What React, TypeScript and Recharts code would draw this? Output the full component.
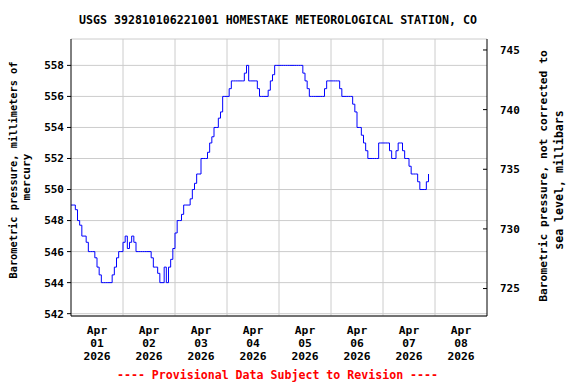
import React from 'react';
import { LineChart, Line, XAxis, YAxis, CartesianGrid, ReferenceLine } from 'recharts';

const TITLE = 'USGS 392810106221001 HOMESTAKE METEOROLOGICAL STATION, CO';
const FOOTER = '---- Provisional Data Subject to Revision ----';
const LEFT_LABEL = ['Barometric pressure, millimeters of', 'mercury'];
const RIGHT_LABEL = ['Barometric pressure, not corrected to', 'sea level, millibars'];

// Hourly readings starting Apr 01 2026 00:00 (mm Hg)
const pressureMmHg = [
  549, 549, 548.7, 548, 547.7, 547, 547, 546.6, 546, 546, 546, 545.6, 545, 544.5, 544, 544, 544, 544, 544, 544.5, 545, 545.6, 546, 546,
  546.6, 547, 546.2, 546.6, 547, 546.6, 546, 546, 546, 546, 546, 546, 546, 545.6, 545, 545, 544.6, 544, 544, 545, 544, 545, 545.5, 546.2,
  547.2, 548, 548, 548.4, 549, 549, 549, 549.4, 550, 550.4, 551, 551, 552, 552, 552, 552.4, 553, 553.4, 554, 554, 554.6, 555, 556, 556,
  556, 556.5, 557, 557, 557, 557, 557, 557, 557.5, 558, 557, 557, 557, 557, 556.5, 556, 556, 556, 556, 556.4, 557, 557.4, 558, 558,
  558, 558, 558, 558, 558, 558, 558, 558, 558, 558, 558, 557.5, 557, 556.5, 556, 556, 556, 556, 556, 556, 556, 556.5, 557, 557,
  557, 557, 557, 557, 556.5, 556, 556, 556, 556, 556, 555.5, 555, 554, 554, 553.5, 553, 552.5, 552, 552, 552, 552, 552, 553, 553,
  553, 553, 553, 552.5, 552, 552, 552.5, 553, 553, 552.5, 552, 552, 551.5, 551, 551, 551, 550.5, 550, 550, 550, 550.5, 551,
];

const dayMonths = ['Apr', 'Apr', 'Apr', 'Apr', 'Apr', 'Apr', 'Apr', 'Apr'];
const dayNumbers = ['01', '02', '03', '04', '05', '06', '07', '08'];
const dayYears = ['2026', '2026', '2026', '2026', '2026', '2026', '2026', '2026'];
const dayCenterHours = [12, 36, 60, 84, 108, 132, 156, 180];
const dayBoundaryHours = [24, 48, 72, 96, 120, 144, 168];
const xDomain = [0, 192];

const leftTicks = [542, 544, 546, 548, 550, 552, 554, 556, 558];
const leftDomain = [541.85, 559.7];
const rightTicks = [725, 730, 735, 740, 745];
const rightDomain = [722.7, 745.92];

const data = pressureMmHg.map((v, i) => ({ hour: i, mmHg: v }));

const FONT = '"DejaVu Sans Mono", monospace';

const DateTick = (props: any) => {
  const { x, y, payload } = props;
  const i = dayCenterHours.indexOf(payload.value);
  if (i < 0) return null;
  const common = {
    x,
    textAnchor: 'middle' as const,
    fontFamily: FONT,
    fontWeight: 'bold' as const,
    fontSize: 11.3,
    fill: '#000',
    dominantBaseline: 'central' as const,
  };
  return (
    <g>
      <text {...common} y={y + 14.5}>{dayMonths[i]}</text>
      <text {...common} y={y + 27.5}>{dayNumbers[i]}</text>
      <text {...common} y={y + 40.5}>{dayYears[i]}</text>
    </g>
  );
};

const tickStyle = { fontFamily: FONT, fontWeight: 'bold', fontSize: 11, fill: '#000' };

const textBase: React.CSSProperties = {
  position: 'absolute',
  fontFamily: FONT,
  fontWeight: 'bold',
  whiteSpace: 'nowrap',
  lineHeight: 1,
  color: '#000',
};

const rotated = (cx: number, cy: number, size: number): React.CSSProperties => ({
  ...textBase,
  left: cx,
  top: cy,
  fontSize: size,
  transform: 'translate(-50%, -50%) rotate(-90deg)',
});

export default function App() {
  return (
    <div style={{ position: 'absolute', left: 0, top: 0, width: 576, height: 384, background: '#fff' }}>
      <LineChart
        width={576}
        height={384}
        data={data}
        margin={{ top: 39, right: 0, bottom: 0, left: 0 }}
      >
        <CartesianGrid vertical={false} stroke="#cccccc" strokeWidth={1} />
        {dayBoundaryHours.map((h) => (
          <ReferenceLine key={h} x={h} stroke="#cccccc" strokeWidth={1} />
        ))}
        <XAxis
          dataKey="hour"
          type="number"
          domain={xDomain}
          ticks={dayCenterHours}
          tick={<DateTick />}
          tickLine={false}
          tickSize={0}
          tickMargin={0}
          height={68}
          interval={0}
          axisLine={{ stroke: '#000', strokeWidth: 1 }}
          allowDataOverflow
        />
        <XAxis
          xAxisId="top"
          orientation="top"
          type="number"
          domain={xDomain}
          tick={false}
          tickLine={false}
          height={0}
          axisLine={{ stroke: '#000', strokeWidth: 1 }}
          allowDataOverflow
        />
        <YAxis
          type="number"
          domain={leftDomain}
          ticks={leftTicks}
          width={71}
          tickSize={4}
          tickMargin={3}
          tick={tickStyle}
          tickLine={{ stroke: '#000' }}
          axisLine={{ stroke: '#000', strokeWidth: 1 }}
          allowDataOverflow
          interval={0}
        />
        <YAxis
          yAxisId="right"
          orientation="right"
          type="number"
          domain={rightDomain}
          ticks={rightTicks}
          width={89}
          tickSize={-4}
          tickMargin={17}
          tick={tickStyle}
          tickLine={{ stroke: '#000' }}
          axisLine={{ stroke: '#000', strokeWidth: 1 }}
          allowDataOverflow
          interval={0}
        />
        <Line
          type="stepAfter"
          dataKey="mmHg"
          stroke="#0000ff"
          strokeWidth={1}
          dot={false}
          isAnimationActive={false}
        />
      </LineChart>
      <div style={{ ...textBase, fontSize: 11.6, left: 278, top: 21, transform: 'translate(-50%, -50%)' }}>{TITLE}</div>
      <div style={{ ...textBase, fontSize: 11.6, left: 277.5, top: 376, color: '#ff0000', transform: 'translate(-50%, -50%)' }}>{FOOTER}</div>
      <div style={rotated(13, 169.5, 10.3)}>{LEFT_LABEL[0]}</div>
      <div style={rotated(26.5, 176.7, 11.1)}>{LEFT_LABEL[1]}</div>
      <div style={rotated(544, 175.8, 11.3)}>{RIGHT_LABEL[0]}</div>
      <div style={rotated(559.5, 180, 11.6)}>{RIGHT_LABEL[1]}</div>
    </div>
  );
}
